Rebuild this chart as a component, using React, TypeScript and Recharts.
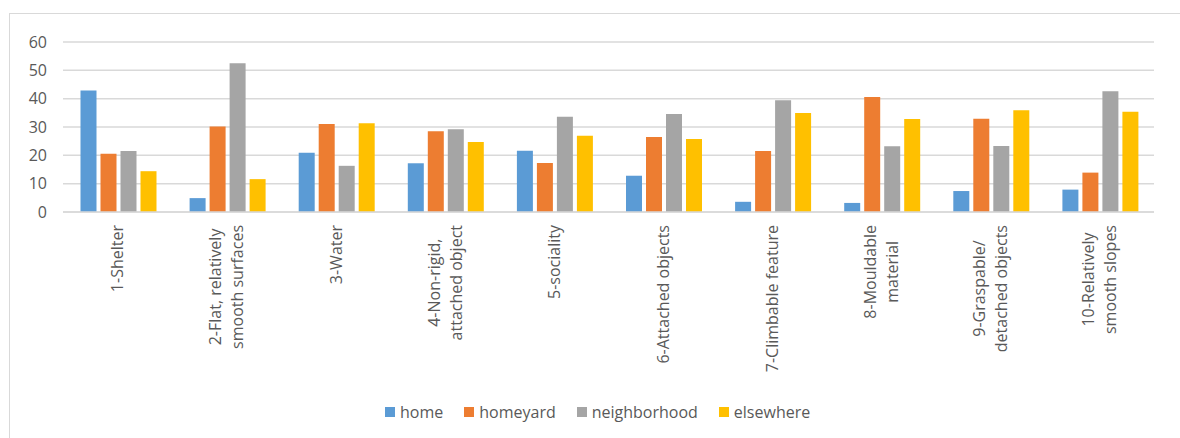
import React from 'react';
import { BarChart, Bar, XAxis, YAxis, CartesianGrid } from 'recharts';

const categories = [
  '1-Shelter',
  '2-Flat, relatively\nsmooth surfaces',
  '3-Water',
  '4-Non-rigid,\nattached object',
  '5-sociality',
  '6-Attached objects',
  '7-Climbable feature',
  '8-Mouldable\nmaterial',
  '9-Graspable/\ndetached objects',
  '10-Relatively\nsmooth slopes',
];
const home = [42.9, 4.9, 20.9, 17.2, 21.6, 12.8, 3.6, 3.2, 7.4, 7.9];
const homeyard = [20.6, 30.2, 31.1, 28.5, 17.3, 26.5, 21.5, 40.6, 32.9, 13.9];
const neighborhood = [21.5, 52.5, 16.3, 29.2, 33.6, 34.6, 39.4, 23.2, 23.3, 42.6];
const elsewhere = [14.4, 11.6, 31.3, 24.7, 26.9, 25.8, 34.9, 32.8, 35.9, 35.4];
const yTicks = [0, 10, 20, 30, 40, 50, 60];
const seriesKeys = ['home', 'homeyard', 'neighborhood', 'elsewhere'];
const seriesColors = ['#5B9BD5', '#ED7D31', '#A5A5A5', '#FFC000'];

const data = categories.map((c, i) => ({
  name: c,
  home: home[i],
  homeyard: homeyard[i],
  neighborhood: neighborhood[i],
  elsewhere: elsewhere[i],
}));

const FONT = "'Open Sans', sans-serif";
const FS = 16;
let ctx: CanvasRenderingContext2D | null = null;
function measure(t: string): number {
  if (!ctx) {
    const c = document.createElement('canvas');
    ctx = c.getContext('2d');
  }
  if (!ctx) return t.length * FS * 0.5;
  ctx.font = `${FS}px 'Open Sans'`;
  return ctx.measureText(t).width;
}

const XTick = (props: any) => {
  const { x, y, payload } = props;
  const lines: string[] = String(payload.value).split('\n');
  const maxLen = Math.max(...lines.map(measure));
  const spacing = 22;
  const n = lines.length;
  const centerX = -(maxLen / 2);
  return (
    <g transform={`translate(${x},${y}) rotate(-90)`}>
      {lines.map((l, i) => (
        <text
          key={i}
          x={centerX}
          y={(i - (n - 1) / 2) * spacing + FS * 0.36}
          textAnchor="middle"
          fontFamily={FONT}
          fontSize={FS}
          fill="#595959"
        >
          {l}
        </text>
      ))}
    </g>
  );
};

export default function App() {
  return (
    <div style={{ position: 'fixed', left: 0, top: 0, width: 1180, height: 438, overflow: 'hidden', background: '#fff' }}>
      <div
        style={{
          position: 'absolute',
          left: 9,
          top: 13,
          width: 1200,
          height: 500,
          border: '1px solid #d9d9d9',
          boxSizing: 'border-box',
        }}
      />
      <div style={{ position: 'absolute', left: 0, top: 0 }}>
        <BarChart
          width={1180}
          height={438}
          data={data}
          margin={{ top: 42, right: 26, left: 0, bottom: 46 }}
          barCategoryGap={17.5}
          barGap={4}
        >
          <CartesianGrid vertical={false} stroke="#d9d9d9" strokeWidth={1.5} />
          <XAxis
            dataKey="name"
            height={180}
            interval={0}
            tickLine={false}
            tickSize={0}
            tickMargin={13}
            axisLine={{ stroke: '#d9d9d9', strokeWidth: 1.5 }}
            tick={<XTick />}
          />
          <YAxis
            width={63}
            domain={[0, 60]}
            ticks={yTicks}
            axisLine={false}
            tickLine={false}
            tickSize={0}
            tickMargin={16}
            tick={{ fill: '#595959', fontSize: FS, fontFamily: FONT }}
          />
          {seriesKeys.map((k, i) => (
            <Bar key={k} dataKey={k} fill={seriesColors[i]} isAnimationActive={false} />
          ))}
        </BarChart>
      </div>
      <div
        style={{
          position: 'absolute',
          left: 385,
          top: 400,
          display: 'flex',
          alignItems: 'center',
          fontFamily: FONT,
          fontSize: FS,
          color: '#595959',
          whiteSpace: 'nowrap',
          lineHeight: '24px',
        }}
      >
        {seriesKeys.map((k, i) => (
          <div key={k} style={{ display: 'flex', alignItems: 'center', marginRight: 21 }}>
            <div style={{ width: 10, height: 10, background: seriesColors[i], marginRight: 5 }} />
            <span>{k}</span>
          </div>
        ))}
      </div>
    </div>
  );
}
